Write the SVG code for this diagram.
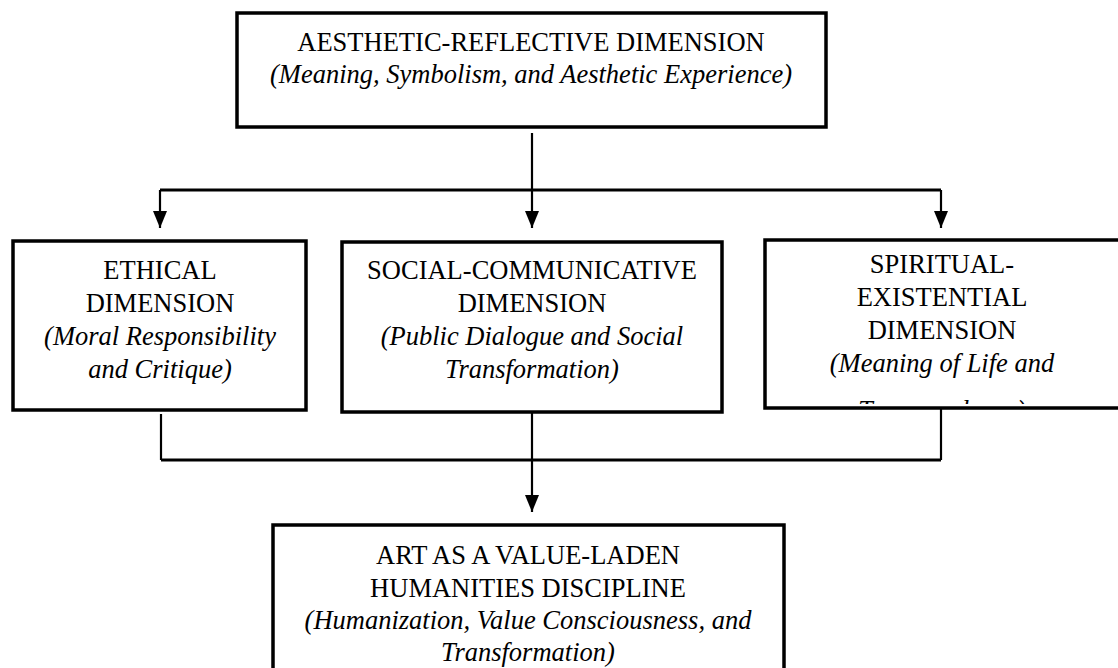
<svg xmlns="http://www.w3.org/2000/svg" width="1118" height="668" viewBox="0 0 1118 668">
  <style>
    .box { fill: #ffffff; stroke: #000000; stroke-width: 3.5; }
    .t { font-family: "Liberation Serif", "Times New Roman", serif; font-size: 26.5px; fill: #000000; text-anchor: middle; }
    .i { font-style: italic; }
    .c { stroke: #000000; stroke-width: 2.2; fill: none; }
    .h { stroke: #000000; stroke-width: 3; fill: none; }
  </style>
  <defs>
    <marker id="arr" viewBox="0 0 17 14" refX="17" refY="7" markerWidth="17" markerHeight="14" markerUnits="userSpaceOnUse" orient="auto">
      <path d="M0,0 L17,7 L0,14 z" fill="#000000"/>
    </marker>
    <clipPath id="clipSpiritual">
      <rect x="765" y="240" width="360" height="164"/>
    </clipPath>
  </defs>
  <rect width="1118" height="668" fill="#ffffff"/>

  <g id="connectors">
    <line class="c" x1="532" y1="133" x2="532" y2="228" marker-end="url(#arr)"/>
    <line class="h" x1="160" y1="190" x2="941" y2="190"/>
    <line class="c" x1="160" y1="190" x2="160" y2="228" marker-end="url(#arr)"/>
    <line class="c" x1="941" y1="190" x2="941" y2="228" marker-end="url(#arr)"/>
    <line class="c" x1="161" y1="414" x2="161" y2="460"/>
    <line class="c" x1="941" y1="408" x2="941" y2="460"/>
    <line class="h" x1="161" y1="460" x2="941" y2="460"/>
    <line class="c" x1="532" y1="412" x2="532" y2="512" marker-end="url(#arr)"/>
  </g>

  <g id="node-aesthetic">
    <rect class="box" x="237" y="13" width="589" height="114"/>
    <text class="t" x="531" y="51">AESTHETIC-REFLECTIVE DIMENSION</text>
    <text class="t i" x="531" y="83">(Meaning, Symbolism, and Aesthetic Experience)</text>
  </g>

  <g id="node-ethical">
    <rect class="box" x="13" y="241" width="293" height="169"/>
    <text class="t" x="160" y="279">ETHICAL</text>
    <text class="t" x="160" y="312">DIMENSION</text>
    <text class="t i" x="160" y="345">(Moral Responsibility</text>
    <text class="t i" x="160" y="378">and Critique)</text>
  </g>

  <g id="node-social">
    <rect class="box" x="342" y="242" width="380" height="170"/>
    <text class="t" x="532" y="279">SOCIAL-COMMUNICATIVE</text>
    <text class="t" x="532" y="312">DIMENSION</text>
    <text class="t i" x="532" y="345">(Public Dialogue and Social</text>
    <text class="t i" x="532" y="378">Transformation)</text>
  </g>

  <g id="node-spiritual">
    <rect class="box" x="765" y="240" width="360" height="168"/>
    <g clip-path="url(#clipSpiritual)">
      <text class="t" x="942" y="273">SPIRITUAL-</text>
      <text class="t" x="942" y="306">EXISTENTIAL</text>
      <text class="t" x="942" y="339">DIMENSION</text>
      <text class="t i" x="942" y="372">(Meaning of Life and</text>
      <text class="t i" x="942" y="419">Transcendence)</text>
    </g>
  </g>

  <g id="node-art">
    <rect class="box" x="273" y="525" width="511" height="160"/>
    <text class="t" x="528" y="564">ART AS A VALUE-LADEN</text>
    <text class="t" x="528" y="597">HUMANITIES DISCIPLINE</text>
    <text class="t i" x="528" y="629">(Humanization, Value Consciousness, and</text>
    <text class="t i" x="528" y="661">Transformation)</text>
  </g>
</svg>
